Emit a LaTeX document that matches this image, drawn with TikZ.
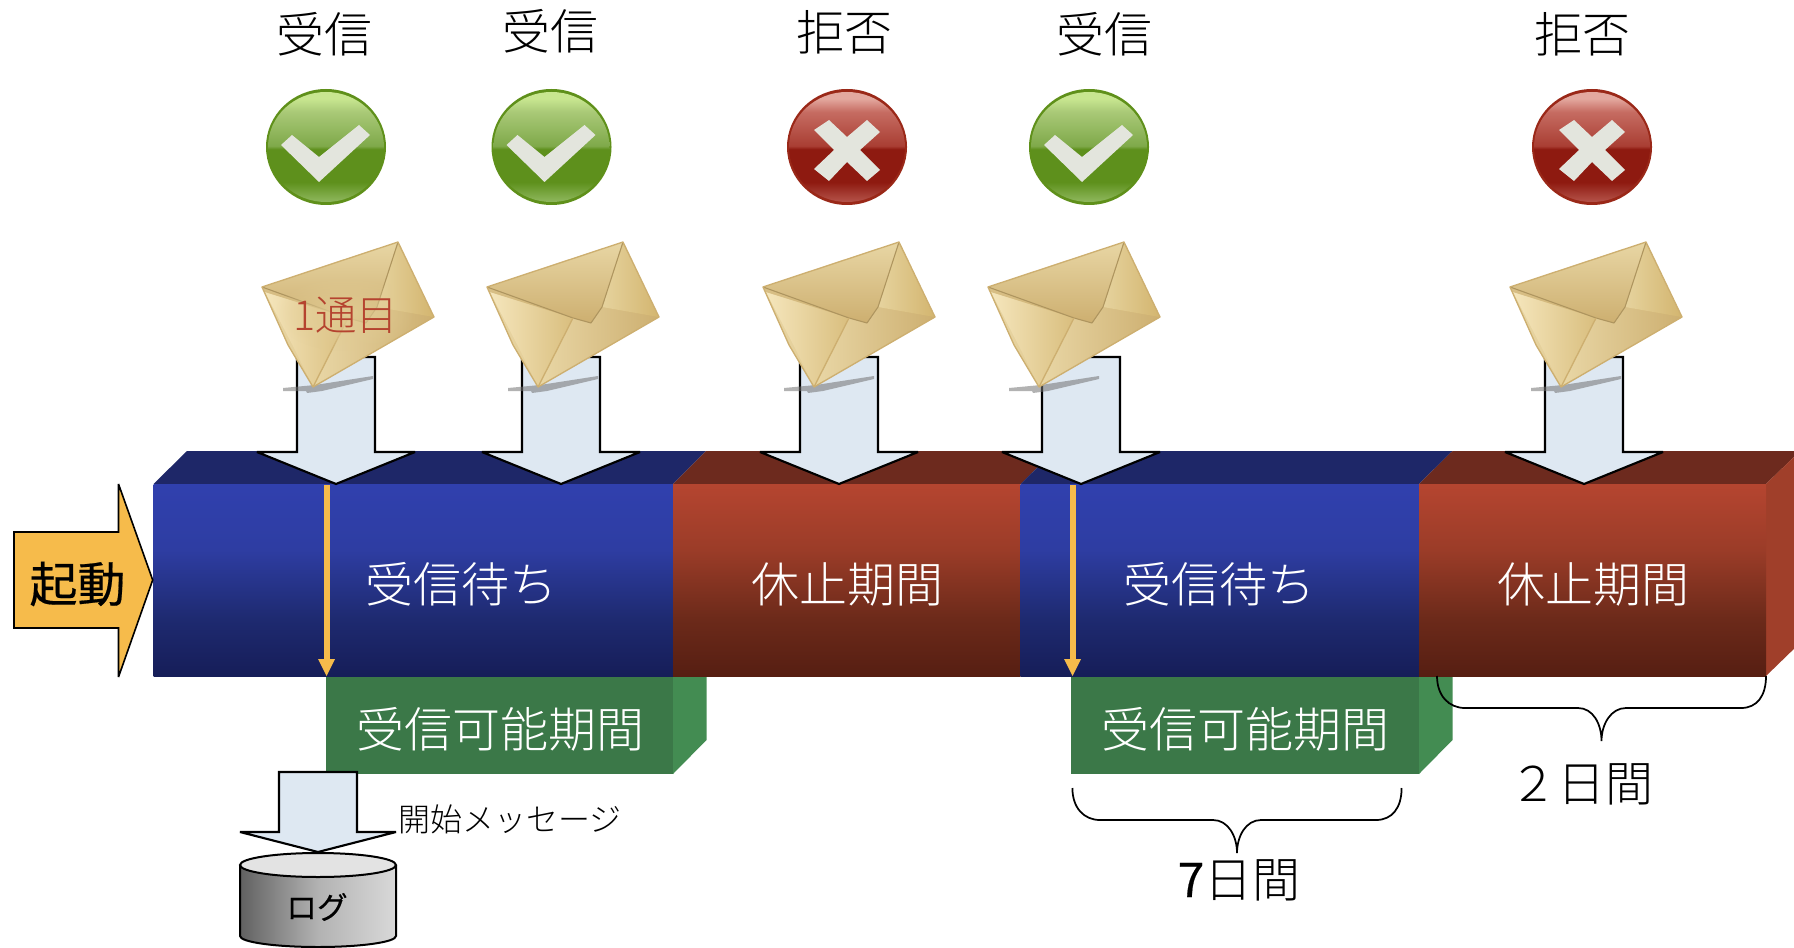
\documentclass[tikz,border=0pt]{standalone}
\usepackage{fontspec}
\usetikzlibrary{fadings}
\setmainfont{Noto Sans CJK JP Light}
\newfontfamily\medjp[FakeBold=0.4]{Noto Sans CJK JP}
\definecolor{gbLow}{HTML}{8FB85E}
\definecolor{gbMid}{HTML}{5E901C}
\definecolor{gbUp}{HTML}{7FA94A}
\definecolor{gbHi}{HTML}{A9C977}
\definecolor{gbHi2}{HTML}{C8E690}
\definecolor{gbRim}{HTML}{5F901A}
\definecolor{rbLow}{HTML}{B5534A}
\definecolor{rbMid}{HTML}{8E1A10}
\definecolor{rbUp}{HTML}{A93E33}
\definecolor{rbHi}{HTML}{C66C62}
\definecolor{rbHi2}{HTML}{E3A89F}
\definecolor{rbRim}{HTML}{9A2818}
\definecolor{blueT}{HTML}{3040AE}
\definecolor{blueM}{HTML}{2E3DA2}
\definecolor{blueC}{HTML}{1E2A70}
\definecolor{blueB}{HTML}{161D58}
\definecolor{blueTop}{HTML}{1E2768}
\definecolor{redT}{HTML}{B54530}
\definecolor{redM}{HTML}{9B3C28}
\definecolor{redC}{HTML}{6C2A1A}
\definecolor{redB}{HTML}{561E12}
\definecolor{redTop}{HTML}{6D2A1E}
\definecolor{redSide}{HTML}{A03F2A}
\definecolor{greenF}{HTML}{3B7848}
\definecolor{greenS}{HTML}{438C52}
\definecolor{orangeA}{HTML}{F6BB4B}
\definecolor{paleA}{HTML}{DEE8F2}
\definecolor{envRed}{HTML}{B5432F}
\definecolor{EnvA}{HTML}{E9D7A6}
\definecolor{EnvB}{HTML}{D3B56F}
\definecolor{EnvD}{HTML}{CDAF70}
\definecolor{EnvE}{HTML}{F5E6BC}
\definecolor{EnvF}{HTML}{D9BE7E}
\definecolor{EnvG}{HTML}{E8D6A4}
\definecolor{EnvH}{HTML}{E6D39E}
\definecolor{markW}{HTML}{E3E5DD}
\pgfdeclareverticalshading{greenball}{100bp}{
 color(0bp)=(gbLow); color(25bp)=(gbLow); color(34bp)=(gbMid);
 color(49bp)=(gbMid); color(50.5bp)=(gbUp); color(66bp)=(gbHi); color(72bp)=(gbHi2); color(75bp)=(gbHi2); color(100bp)=(gbHi2)}
\pgfdeclareverticalshading{redball}{100bp}{
 color(0bp)=(rbLow); color(25bp)=(rbLow); color(34bp)=(rbMid);
 color(49bp)=(rbMid); color(50.5bp)=(rbUp); color(66bp)=(rbHi); color(72bp)=(rbHi2); color(75bp)=(rbHi2); color(100bp)=(rbHi2)}
\pgfdeclareverticalshading{bluebar}{100bp}{
 color(0bp)=(blueB); color(25bp)=(blueB); color(40bp)=(blueC); color(58bp)=(blueM); color(75bp)=(blueT); color(100bp)=(blueT)}
\pgfdeclareverticalshading{redbar}{100bp}{
 color(0bp)=(redB); color(25bp)=(redB); color(40bp)=(redC); color(58bp)=(redM); color(75bp)=(redT); color(100bp)=(redT)}
\tikzfading[name=softedge,inner color=transparent!0,outer color=transparent!100]
\tikzset{
 x=0.75pt,y=-0.75pt,
 blockarrow/.style={draw=black,line width=1.6pt,fill=paleA,line join=miter,miter limit=2},
 lbl/.style={inner sep=0pt,font=\fontsize{36}{36}\selectfont},
 wlbl/.style={lbl,text=white},
 brace/.style={draw=black,line width=1.3pt},
}
\newcommand{\downarrowblock}[2]{% tip x, shaft top y
 \draw[blockarrow] (#1-39,#2) -- (#1-39,452) -- (#1-79,452) -- (#1,484) -- (#1+79,452) -- (#1+39,452) -- (#1+39,#2) -- cycle;}
\newcommand{\envelope}[1]{%
 \begin{scope}[shift={(#1,0)}]
 \fill[black!55,opacity=.55] (283,388) -- (315,385) -- (373,376) -- (373,379) -- (322,391) -- (307,393) -- (306,391) -- (283,391) -- cycle;
 \shade[left color=EnvA,right color=EnvB] (262,287) -- (398,242) -- (434,317) -- (313,387) -- (288,345) -- cycle;
 \shade[left color=EnvA,right color=EnvD] (313,387) -- (348,318) -- (366,323) -- (377,307) -- (434,317) -- cycle;
 \shade[left color=EnvE,right color=EnvF] (265,292) -- (348,318) -- (313,387) -- (296,352) -- cycle;
 \shade[left color=EnvH,right color=EnvB] (398,244) -- (434,317) -- (377,307) -- cycle;
 \shade[bottom color=EnvD,top color=EnvG] (262,287) -- (398,242) -- (377,307) -- (366,323) -- (348,318) -- (265,292) -- cycle;
 \draw[EnvD!85!black,line width=.8pt,line join=round] (262,287) -- (348,318) -- (366,323) -- (377,307) -- (398,242);
 \draw[EnvD,line width=1pt] (348,318) -- (313,387);
 \draw[EnvD,line width=1pt,line join=round] (262,287) -- (398,242) -- (434,317) -- (313,387) -- (288,345) -- cycle;
 \end{scope}}
\newcommand{\ball}[3]{% x, shading, rim
 \fill[#3] (#1,147) circle[x radius=60,y radius=58];
 \shade[shading=#2] (#1,147) circle[x radius=58,y radius=55];}
\begin{document}
\begin{tikzpicture}
\useasboundingbox (0,0) rectangle (1794,948);
\clip (0,0) rectangle (1794,948);
% ---- top faces
\fill[blueTop] (153.5,484) -- (187,451) -- (706,451) -- (673,484) -- cycle;
\fill[redTop] (673,484) -- (706,451) -- (1054,451) -- (1020.6,484) -- cycle;
\fill[blueTop] (1020.6,484) -- (1054,451) -- (1452.5,451) -- (1419,484) -- cycle;
\fill[redTop] (1419,484) -- (1452.5,451) -- (1800,451) -- (1766,484) -- cycle;
% ---- right side
\fill[redSide] (1766,484) -- (1800,451) -- (1800,643) -- (1766,676) -- cycle;
% ---- green boxes
\fill[greenS] (673,676) -- (706.5,676) -- (706.5,740) -- (673,774) -- cycle;
\fill[greenF] (326,676) rectangle (673,774);
\fill[greenS] (1419,676) -- (1452.5,676) -- (1452.5,740) -- (1419,774) -- cycle;
\fill[greenF] (1071.4,676) rectangle (1419,774);
% ---- front faces
\shade[shading=bluebar] (153.5,484.5) rectangle (673,676.5);
\shade[shading=redbar] (673,484.5) rectangle (1020.6,676.5);
\shade[shading=bluebar] (1020.6,484.5) rectangle (1419,676.5);
\shade[shading=redbar] (1419,484.5) rectangle (1766,676.5);
% ---- orange start arrow
\draw[draw=black,line width=1.2pt,fill=orangeA,line join=miter,miter limit=3] (14,532) -- (118.5,532) -- (118.5,484) -- (152.7,580) -- (118.5,677) -- (118.5,628) -- (14,628) -- cycle;
\node[lbl,font=\fontsize{36}{36}\selectfont\medjp] (start) at (77.5,584) {起動};
% ---- down arrows
\downarrowblock{336}{357}
\downarrowblock{561}{357}
\downarrowblock{839}{357}
\downarrowblock{1081}{357}
\downarrowblock{1584}{357}
% ---- orange markers
\fill[orangeA] (323.5,485) rectangle (329.5,660);
\fill[orangeA] (318,659) -- (335,659) -- (326.5,676) -- cycle;
\fill[orangeA] (1069.5,485) rectangle (1075.5,660);
\fill[orangeA] (1064,659) -- (1081,659) -- (1072.5,676) -- cycle;
% ---- envelopes
\envelope{0}\envelope{225}\envelope{501}\envelope{726}\envelope{1248}
\fill[EnvA!65!EnvB,path fading=softedge] (345,313) circle[x radius=70,y radius=38];
\node[inner sep=0pt,text=envRed,font=\fontsize{31}{31}\selectfont] (first) at (345.5,315) {1通目};
% ---- balls
\foreach \cx in {326,551.5,1089}{
 \ball{\cx}{greenball}{gbRim}
 \begin{scope}[shift={(\cx,147)}]
 \fill[fill=markW] (-45,-2) -- (-34,-12) -- (-7,10) -- (33,-22) -- (44,-12) -- (-7,35) -- cycle;
 \end{scope}}
\foreach \cx in {847,1592}{
 \ball{\cx}{redball}{rbRim}
 \begin{scope}[shift={(\cx,150)}]
 \fill[fill=markW] (-33,-20) -- (-18,-30) -- (0,-13) -- (20,-30) -- (33,-18) -- (13,0) -- (33,20) -- (20,31) -- (0,12) -- (-18,31) -- (-33,19) -- (-13,0) -- cycle;
 \end{scope}}
% ---- top labels
\node[lbl] (t1) at (324,34) {受信};
\node[lbl] (t2) at (550,31) {受信};
\node[lbl] (t3) at (844,32) {拒否};
\node[lbl] (t4) at (1104,34) {受信};
\node[lbl] (t5) at (1582,34) {拒否};
% ---- bar labels
\node[wlbl] (b1) at (461,584) {受信待ち};
\node[wlbl] (b2) at (847,584) {休止期間};
\node[wlbl] (b3) at (1219,584) {受信待ち};
\node[wlbl] (b4) at (1593,584) {休止期間};
\node[wlbl] (g1) at (500,729) {受信可能期間};
\node[wlbl] (g2) at (1245,729) {受信可能期間};
% ---- log
\draw[blockarrow] (279,772) -- (279,832) -- (240,832) -- (318,852) -- (396,832) -- (357,832) -- (357,772) -- cycle;
\node[inner sep=0pt,font=\fontsize{24}{24}\selectfont] (msg) at (510,819) {開始メッセージ};
\shade[left color=black!62,right color=black!15,middle color=black!30] (240,865) -- (240,936) arc[start angle=180,end angle=0,x radius=78,y radius=11] -- (396,865) -- cycle;
\draw[black,line width=1.5pt] (240,865) -- (240,936) arc[start angle=180,end angle=0,x radius=78,y radius=11] -- (396,865);
\draw[black,line width=1.5pt,fill=black!11] (318,865) circle[x radius=78,y radius=12];
\node[inner sep=0pt,font=\fontsize{23}{23}\selectfont\medjp] (log) at (317,907) {ログ};
% ---- braces
\draw[brace] (1072.4,788) .. controls (1072.4,808) and (1084,820) .. (1100,820) -- (1213,820) .. controls (1228,820) and (1237,836) .. (1237,853) .. controls (1237,836) and (1246,820) .. (1261,820) -- (1376,820) .. controls (1392,820) and (1401.6,808) .. (1401.6,788);
\draw[brace] (1437,676) .. controls (1437,696) and (1449,708) .. (1465,708) -- (1578,708) .. controls (1593,708) and (1601.5,724) .. (1601.5,741) .. controls (1601.5,724) and (1611,708) .. (1626,708) -- (1741,708) .. controls (1757,708) and (1766,696) .. (1766,676);
\node[lbl] (d7) at (1239,880) {{\medjp 7}日間};
\node[lbl] (d2) at (1581,784) {２日間};
\end{tikzpicture}
\end{document}
